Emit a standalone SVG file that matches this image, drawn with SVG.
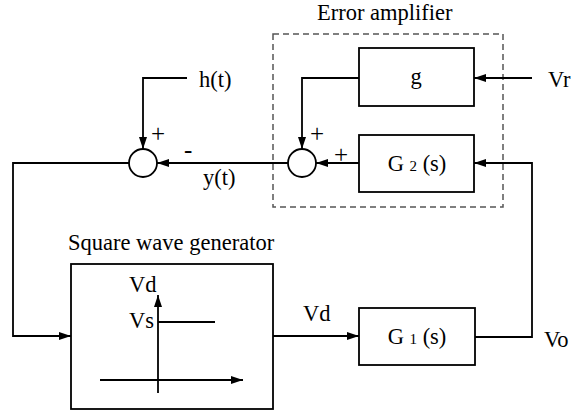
<svg xmlns="http://www.w3.org/2000/svg" width="571" height="412" viewBox="0 0 571 412">
<defs>
<marker id="arr" viewBox="0 0 12 8" refX="12" refY="4" markerWidth="12" markerHeight="8" markerUnits="userSpaceOnUse" orient="auto">
<path d="M0,0 L12,4 L0,8 Z" fill="#000"/>
</marker>
</defs>
<style>
text{font-family:"Liberation Serif","Times New Roman",serif;font-size:22.5px;fill:#000}
.box{fill:#fff;stroke:#000;stroke-width:1.8}
.ln{fill:none;stroke:#000;stroke-width:1.8}
.a{marker-end:url(#arr)}
.sub{font-size:15px}
.sg{font-size:25px}
</style>
<rect width="571" height="412" fill="#fff"/>
<g id="error-amplifier">
<rect x="273" y="34" width="230" height="173" fill="none" stroke="#555" stroke-width="1.5" stroke-dasharray="6,4"/>
<text x="317" y="20">Error amplifier</text>
</g>
<g id="connectors">
<path class="ln a" d="M187,78 H143 V149"/>
<path class="ln a" d="M532,78 H474"/>
<path class="ln a" d="M359,78 H302 V149"/>
<path class="ln a" d="M359,163 H316"/>
<path class="ln a" d="M288,163 H157"/>
<path class="ln a" d="M129,163 H13 V336 H71"/>
<path class="ln a" d="M273,336 H359"/>
<path class="ln a" d="M475,337 H532 V163 H474"/>
</g>
<g id="g">
<rect class="box" x="359" y="48" width="115" height="58"/>
<text x="416" y="84" text-anchor="middle">g</text>
</g>
<g id="G2">
<rect class="box" x="359" y="135" width="115" height="57"/>
<text x="417" y="171" text-anchor="middle">G <tspan class="sub">2</tspan> (s)</text>
</g>
<g id="sum2">
<circle cx="302" cy="163" r="14" class="box"/>
</g>
<g id="sum1">
<circle cx="143" cy="163" r="14" class="box"/>
</g>
<g id="square-wave-generator">
<text x="68" y="250">Square wave generator</text>
<rect class="box" x="71" y="264" width="202" height="145"/>
<path class="ln a" d="M158,393 V295"/>
<path class="ln" d="M158,322 H215"/>
<path class="ln a" d="M100,380 H243"/>
<text x="129" y="292">Vd</text>
<text x="129" y="328">Vs</text>
</g>
<g id="G1">
<rect class="box" x="359" y="308" width="116" height="57"/>
<text x="417" y="344" text-anchor="middle">G <tspan class="sub">1</tspan> (s)</text>
</g>
<g id="labels">
<text x="199" y="87">h(t)</text>
<text x="203" y="185">y(t)</text>
<text x="548" y="87">Vr</text>
<text x="303" y="321">Vd</text>
<text x="544" y="347">Vo</text>
<text class="sg" x="151" y="142">+</text>
<text class="sg" x="184" y="158">-</text>
<text class="sg" x="310" y="142">+</text>
<text class="sg" x="334" y="163">+</text>
</g>
</svg>
